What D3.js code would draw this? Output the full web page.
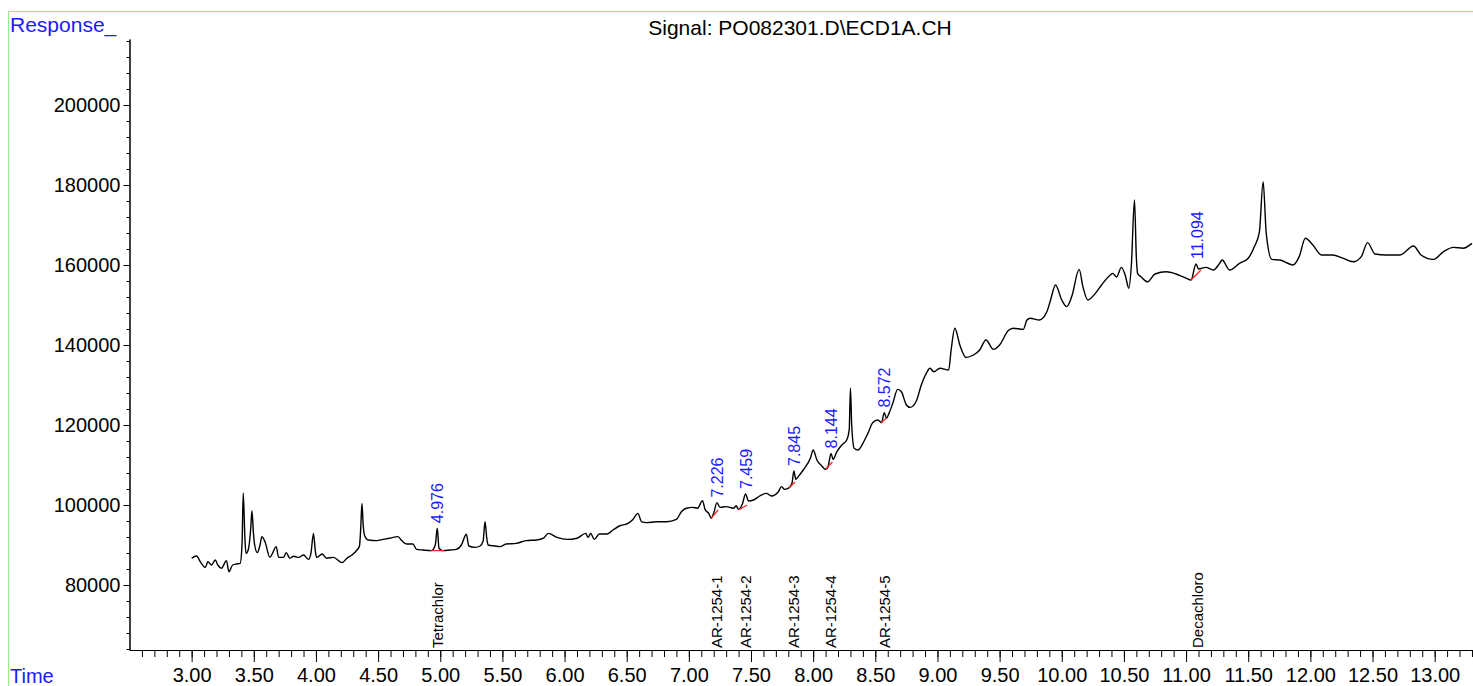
<!DOCTYPE html>
<html>
<head>
<meta charset="utf-8">
<script src="https://cdn.jsdelivr.net/npm/d3@7"></script>
<style>
    body { margin: 0; background: #fff; }
    svg { display: block; font-family: 'Liberation Sans', Arial, sans-serif; }
</style>
</head>
<body>
<svg id="chart" width="1473" height="686"></svg>
<script>
// chromatogram trace: [time (min), response]
const trace = [
    [3.00, 86700], [3.04, 87250], [3.07, 85800], [3.11, 84400], [3.13, 85800], [3.16, 85000],
    [3.19, 86250], [3.21, 85000], [3.24, 84200], [3.28, 86100], [3.30, 83300], [3.33, 85000],
    [3.36, 85250], [3.39, 85400], [3.405, 90000], [3.415, 103000], [3.428, 92000], [3.437, 87900],
    [3.455, 88750], [3.475, 94000], [3.485, 98600], [3.497, 93000], [3.507, 90000], [3.528, 88100],
    [3.55, 90000], [3.565, 92100], [3.59, 90800], [3.63, 86900], [3.65, 87900], [3.68, 89600],
    [3.70, 86900], [3.74, 86900], [3.76, 88100], [3.79, 86700], [3.82, 87200], [3.86, 86900],
    [3.90, 87500], [3.94, 86400], [3.96, 88000], [3.98, 92900], [3.995, 88500], [4.005, 86900],
    [4.05, 87750], [4.085, 86700], [4.14, 86900], [4.21, 85600], [4.25, 86700], [4.29, 87500],
    [4.33, 88750], [4.35, 89750], [4.36, 94000], [4.37, 100400], [4.38, 95000], [4.39, 92500],
    [4.42, 91250], [4.49, 91100], [4.54, 91400], [4.59, 91700], [4.66, 92100], [4.69, 91100],
    [4.73, 90250], [4.78, 90250], [4.81, 88900], [4.86, 88750], [4.93, 88600], [4.96, 90000],
    [4.976, 94200], [4.99, 89200], [5.02, 88600], [5.08, 88750], [5.13, 88900], [5.17, 90000],
    [5.21, 92700], [5.23, 89750], [5.28, 89400], [5.32, 89750], [5.345, 91000], [5.36, 95800],
    [5.375, 91500], [5.385, 90000], [5.44, 89750], [5.48, 89600], [5.53, 90250], [5.61, 90400],
    [5.69, 91100], [5.775, 91250], [5.83, 91700], [5.87, 92900], [5.94, 91900], [6.02, 91400],
    [6.10, 91700], [6.17, 92900], [6.19, 91900], [6.21, 92900], [6.24, 91400], [6.28, 92750],
    [6.34, 92750], [6.39, 93750], [6.44, 94750], [6.51, 95400], [6.55, 96400], [6.59, 97900],
    [6.62, 95800], [6.66, 95600], [6.74, 95800], [6.82, 95800], [6.90, 96400], [6.94, 98300],
    [6.98, 99200], [7.03, 99400], [7.07, 99200], [7.11, 101100], [7.13, 98900], [7.16, 97900],
    [7.18, 96700], [7.20, 98000], [7.226, 100600], [7.25, 99400], [7.30, 99600], [7.36, 99200],
    [7.38, 99800], [7.40, 98900], [7.43, 100200], [7.456, 102750], [7.48, 101000], [7.52, 101250],
    [7.57, 102250], [7.625, 102900], [7.665, 102250], [7.72, 103300], [7.745, 104600], [7.77, 103900],
    [7.81, 104400], [7.83, 105500], [7.845, 108500], [7.86, 106400], [7.88, 107100], [7.92, 108750],
    [7.98, 111900], [8.00, 113750], [8.03, 111250], [8.07, 109750], [8.10, 108900], [8.12, 109600],
    [8.144, 112900], [8.16, 111400], [8.19, 113300], [8.23, 115000], [8.27, 116250], [8.29, 118750],
    [8.30, 129200], [8.31, 120000], [8.33, 114200], [8.36, 113750], [8.40, 115400], [8.44, 117900],
    [8.48, 120600], [8.52, 121250], [8.55, 120600], [8.572, 123100], [8.59, 121700], [8.61, 122900],
    [8.64, 125400], [8.68, 128900], [8.71, 128300], [8.75, 125000], [8.78, 124400], [8.83, 126000],
    [8.87, 130000], [8.91, 132900], [8.94, 134200], [8.97, 133300], [9.02, 134200], [9.09, 133750],
    [9.11, 138750], [9.14, 144200], [9.18, 140000], [9.23, 136900], [9.29, 137500], [9.34, 138750],
    [9.39, 141250], [9.45, 138900], [9.50, 140000], [9.57, 143600], [9.61, 144200], [9.69, 143900],
    [9.72, 146250], [9.745, 146700], [9.82, 146250], [9.88, 148300], [9.91, 151250], [9.95, 155000],
    [10.00, 151250], [10.04, 149600], [10.08, 152100], [10.14, 158900], [10.17, 154600], [10.21, 151250],
    [10.27, 152900], [10.32, 155000], [10.39, 157500], [10.41, 157900], [10.44, 157000], [10.48, 159400],
    [10.51, 157500], [10.54, 154200], [10.56, 160000], [10.585, 176250], [10.60, 162000], [10.61, 157900],
    [10.64, 157000], [10.69, 155800], [10.75, 157750], [10.84, 158300], [10.92, 157750], [11.00, 156700],
    [11.04, 156250], [11.08, 160250], [11.10, 159000], [11.16, 159400], [11.22, 158750], [11.27, 160400],
    [11.29, 161250], [11.35, 158750], [11.43, 160400], [11.50, 161700], [11.55, 164600], [11.59, 168300],
    [11.62, 180800], [11.645, 167900], [11.69, 161400], [11.755, 161250], [11.86, 160000], [11.91, 162100],
    [11.96, 166700], [12.02, 165000], [12.09, 162500], [12.18, 162500], [12.26, 161700], [12.345, 160800],
    [12.41, 162100], [12.46, 165600], [12.52, 162750], [12.61, 162500], [12.72, 162500], [12.83, 164750],
    [12.89, 162500], [12.99, 161400], [13.07, 163300], [13.15, 164400], [13.23, 164200], [13.30, 165400]
];

// integrated peaks (retention time labels) and their red baselines [t1, r1, t2, r2]
const peakTimes = [4.976, 7.226, 7.459, 7.845, 8.144, 8.572, 11.094];
const baselines = [
    [4.925, 88600, 5.03, 88600],
    [7.18, 96700, 7.235, 98750],
    [7.40, 98750, 7.47, 100000],
    [7.805, 104250, 7.855, 105750],
    [8.10, 109000, 8.155, 110750],
    [8.545, 120500, 8.59, 121750],
    [11.04, 156250, 11.12, 158750]
];

// expected compound names and times
const compoundNames = ['Tetrachlor', 'AR-1254-1', 'AR-1254-2', 'AR-1254-3', 'AR-1254-4', 'AR-1254-5', 'Decachloro'];
const compoundTimes = [4.976, 7.226, 7.459, 7.845, 8.144, 8.572, 11.094];

const xMajor = d3.range(3, 13.01, 0.5);
const xMinor = d3.range(2.6, 13.31, 0.1);
const yMajor = d3.range(80000, 200001, 20000);
const yMinor = d3.range(64000, 216001, 4000);

const title = 'Signal: PO082301.D\\ECD1A.CH';

const svg = d3.select('#chart');
const blue = '#1a1aff';

var x = d3.scaleLinear().domain([2.5, 13.31]).range([129.5, 1473.2]);
var y = d3.scaleLinear().domain([63750, 216500]).range([650, 39]);

// green frame
svg.append('rect')
    .attr('x', 8.5).attr('y', 11.5)
    .attr('width', 1480).attr('height', 690)
    .attr('fill', 'none').attr('stroke', '#8ef08e').attr('stroke-width', 1);

svg.append('text')
    .attr('x', 10).attr('y', 31.5)
    .attr('fill', blue).style('font-size', '21px')
    .text('Response_');
svg.append('text')
    .attr('x', 10).attr('y', 683)
    .attr('fill', blue).style('font-size', '20px')
    .text('Time');
svg.append('text')
    .attr('x', 800).attr('y', 34.5)
    .attr('text-anchor', 'middle').style('font-size', '21px')
    .text(title);

// axes
function styleAxis(g) {
    g.selectAll('path, line').attr('stroke', '#000');
    g.selectAll('text').style('font-size', '20px').attr('fill', '#000')
        .style('font-family', "'Liberation Sans', Arial, sans-serif");
}
svg.append('g').attr('transform', 'translate(0,650)')
    .call(d3.axisBottom(x).tickValues(xMinor).tickSize(7).tickSizeOuter(0).tickFormat(''))
    .call(styleAxis);
svg.append('g').attr('transform', 'translate(0,650)')
    .call(d3.axisBottom(x).tickValues(xMajor).tickSize(12).tickSizeOuter(0).tickPadding(6).tickFormat(d3.format('.2f')))
    .call(styleAxis);
svg.append('g').attr('transform', 'translate(129.5,0)')
    .call(d3.axisLeft(y).tickValues(yMinor).tickSize(3).tickSizeOuter(0).tickFormat(''))
    .call(styleAxis);
svg.append('g').attr('transform', 'translate(129.5,0)')
    .call(d3.axisLeft(y).tickValues(yMajor).tickSize(6).tickSizeOuter(0).tickPadding(3).tickFormat(d3.format('d')))
    .call(styleAxis);

// signal trace
var line = d3.line().x((d) => x(d[0])).y((d) => y(d[1])).curve(d3.curveMonotoneX);
svg.append('path')
    .datum(trace)
    .attr('d', line)
    .attr('fill', 'none')
    .attr('stroke', '#000')
    .attr('stroke-width', 1.4)
    .attr('stroke-linejoin', 'round');

// red integration baselines
svg.selectAll('line.base')
    .data(baselines)
    .join('line')
    .attr('class', 'base')
    .attr('x1', (d) => x(d[0])).attr('y1', (d) => y(d[1]))
    .attr('x2', (d) => x(d[2])).attr('y2', (d) => y(d[3]))
    .attr('stroke', '#ff2020').attr('stroke-width', 1.2);

// retention time labels above peaks
function peakTop(t) {
    return d3.max(trace.filter((d) => Math.abs(d[0] - t) < 0.025), (d) => d[1]);
}
svg.selectAll('text.rt')
    .data(peakTimes)
    .join('text')
    .attr('class', 'rt')
    .attr('transform', (d) => 'translate(' + x(d) + ',' + (y(peakTop(d)) - 5) + ') rotate(-90)')
    .attr('dy', '0.35em')
    .attr('fill', blue)
    .style('font-size', '16px')
    .text((d) => d3.format('.3f')(d));

// compound names at the axis
svg.selectAll('text.cmp')
    .data(compoundNames)
    .join('text')
    .attr('class', 'cmp')
    .attr('transform', (d, i) => 'translate(' + x(compoundTimes[i]) + ',648) rotate(-90)')
    .attr('dy', '0.35em')
    .style('font-size', '15px')
    .text((d) => d);
</script>
</body>
</html>
